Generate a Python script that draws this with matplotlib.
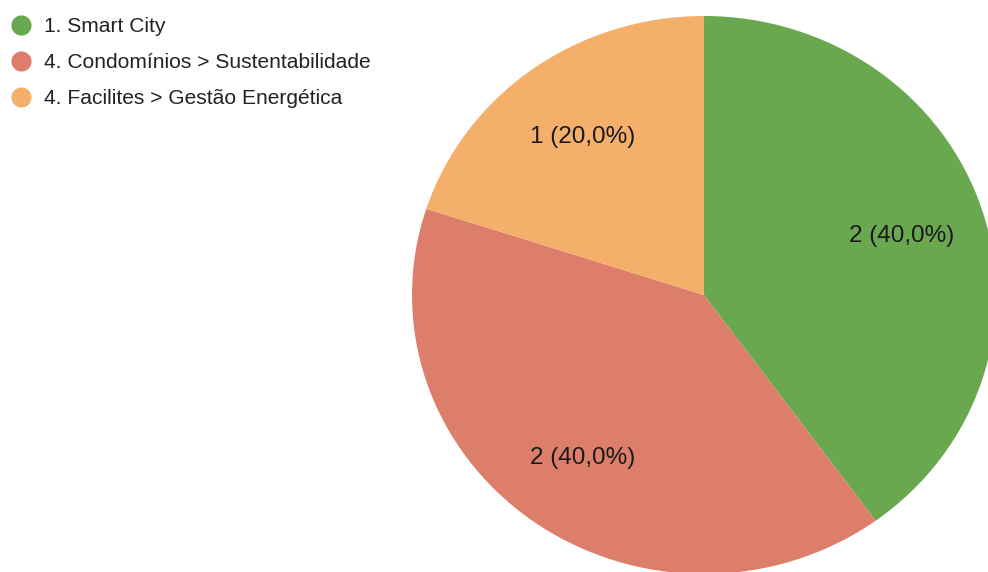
import matplotlib
matplotlib.use("Agg")
import matplotlib.pyplot as plt
from matplotlib.lines import Line2D

# Survey answers and their counts
categories = ["1. Smart City", "4. Condomínios > Sustentabilidade", "4. Facilites > Gestão Energética"]
counts = [2, 2, 1]
colors = ["#6aa84f", "#dd7e6b", "#f4b06a"]

plt.rcParams["font.family"] = ["Liberation Sans", "DejaVu Sans"]

W, H = 988, 572
fig = plt.figure(figsize=(W / 100, H / 100), dpi=100)
ax = fig.add_axes([0, 0, 1, 1])

total = sum(counts)


def fmt(pct):
    n = int(round(pct * total / 100.0))
    return f"{n} ({pct:.1f}%)".replace(".", ",")


wedges, texts, autotexts = ax.pie(
    counts,
    colors=colors,
    startangle=90,
    counterclock=False,
    radius=1.0,
    autopct=fmt,
    pctdistance=0.71,
    wedgeprops=dict(linewidth=0, edgecolor="none"),
    textprops=dict(fontsize=17.5, color="#1a1a1a"),
)
for t in autotexts:
    t.set_verticalalignment("center_baseline")

# Pie centre sits right of the middle and runs off the right/bottom edges
cx_px, cy_px = 704, 295
rx_px, ry_px = 292, 279
ax.set_aspect("auto")
ax.set_xlim(-cx_px / rx_px, (W - cx_px) / rx_px)
ax.set_ylim(-(H - cy_px) / ry_px, cy_px / ry_px)
ax.axis("off")

handles = [
    Line2D([0], [0], marker="o", linestyle="none", markersize=14.5,
           markerfacecolor=c, markeredgecolor="none")
    for c in colors
]
fig.legend(
    handles, categories,
    loc="upper left",
    bbox_to_anchor=(3 / W, 1 - 10 / H),
    frameon=False,
    fontsize=15.1,
    labelcolor="#222222",
    handlelength=1.0,
    handletextpad=0.6,
    labelspacing=0.81,
    borderpad=0.35,
    borderaxespad=0.0,
)

fig.savefig("out.png", dpi=100, facecolor="white")
